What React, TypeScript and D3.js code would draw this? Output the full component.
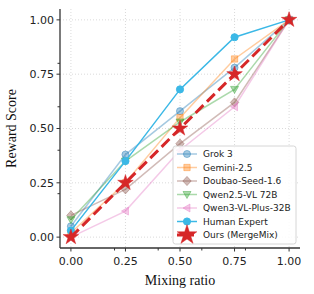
import React from 'react';
import * as d3 from 'd3';

const ratios = [0, 0.25, 0.5, 0.75, 1.0];

const grok = [0.05, 0.38, 0.58, 0.78, 1.0];
const gemini = [0.02, 0.25, 0.55, 0.82, 1.0];
const doubao = [0.1, 0.22, 0.43, 0.62, 1.0];
const qwen25 = [0.08, 0.35, 0.53, 0.68, 1.0];
const qwen3 = [0.0, 0.12, 0.4, 0.6, 1.0];
const human = [0.03, 0.35, 0.68, 0.92, 1.0];
const ours = [0.0, 0.25, 0.5, 0.75, 1.0];

const majorTicks = [0, 0.25, 0.5, 0.75, 1.0];
const minorTicks = [0.2, 0.4, 0.6, 0.8];

type Marker = 'circle' | 'square' | 'diamond' | 'triDown' | 'triLeft' | 'star';

interface Series {
	name: string;
	values: number[];
	color: string;
	alpha: number;
	marker: Marker;
	dashed?: boolean;
	width: number;
}

const series: Series[] = [
	{ name: 'Grok 3', values: grok, color: '#1f77b4', alpha: 0.4, marker: 'circle', width: 1.5 },
	{ name: 'Gemini-2.5', values: gemini, color: '#ff7f0e', alpha: 0.4, marker: 'square', width: 1.5 },
	{ name: 'Doubao-Seed-1.6', values: doubao, color: '#8c564b', alpha: 0.4, marker: 'diamond', width: 1.5 },
	{ name: 'Qwen2.5-VL 72B', values: qwen25, color: '#2ca02c', alpha: 0.4, marker: 'triDown', width: 1.5 },
	{ name: 'Qwen3-VL-Plus-32B', values: qwen3, color: '#e377c2', alpha: 0.4, marker: 'triLeft', width: 1.5 },
	{ name: 'Human Expert', values: human, color: '#3bb8e6', alpha: 1, marker: 'circle', width: 1.5 },
	{ name: 'Ours (MergeMix)', values: ours, color: '#d62728', alpha: 1, marker: 'star', dashed: true, width: 3 },
];

const W = 314;
const H = 294;
const left = 60;
const right = 300;
const top = 9;
const bottom = 248;

const x = d3.scaleLinear().domain([-0.05, 1.05]).range([left, right]);
const y = d3.scaleLinear().domain([-0.05, 1.05]).range([bottom, top]);

const markerPath = (m: Marker, big = false): string => {
	switch (m) {
		case 'circle':
			return d3.symbol(d3.symbolCircle, 40)()!;
		case 'square':
			return d3.symbol(d3.symbolSquare, 40)()!;
		case 'diamond':
			return 'M0,-4.6L4.2,0L0,4.6L-4.2,0Z';
		case 'triDown':
			return 'M-4,-3L4,-3L0,4Z';
		case 'triLeft':
			return 'M-4,0L3,-4L3,4Z';
		case 'star':
			return d3.symbol(d3.symbolStar, big ? 120 : 75)()!;
	}
};

const Mark: React.FC<{ s: Series; cx: number; cy: number; big?: boolean }> = ({ s, cx, cy, big }) => (
	<path
		d={markerPath(s.marker, big)}
		transform={`translate(${cx},${cy})`}
		fill={s.color}
		fillOpacity={s.alpha}
		stroke={s.color}
		strokeOpacity={s.alpha}
		strokeWidth={s.marker === 'star' ? 0.5 : 1}
	/>
);

const App: React.FC = () => {
	const line = d3
		.line<number>()
		.x((_, i) => x(ratios[i]))
		.y((d) => y(d));

	const legX = 173;
	const legY = 146;

	return (
		<svg width={W} height={H} style={{ position: 'absolute', left: 0, top: 0 }}>
			<rect width={W} height={H} fill="white" />
			{/* grid */}
			<g stroke="#d0d0d0" strokeWidth={0.8} strokeDasharray="1,2">
				{majorTicks.map((t) => (
					<line key={'gx' + t} x1={x(t)} x2={x(t)} y1={top} y2={bottom} />
				))}
				{majorTicks.map((t) => (
					<line key={'gy' + t} x1={left} x2={right} y1={y(t)} y2={y(t)} />
				))}
			</g>

			{/* series */}
			{series.map((s) => (
				<g key={s.name}>
					<path
						d={line(s.values)!}
						fill="none"
						stroke={s.color}
						strokeOpacity={s.alpha}
						strokeWidth={s.width}
						strokeDasharray={s.dashed ? '11,5' : undefined}
					/>
					{s.values.map((v, i) => (
						<Mark key={i} s={s} cx={x(ratios[i])} cy={y(v)} />
					))}
				</g>
			))}

			{/* axes */}
			<g stroke="#333" strokeWidth={1.3}>
				<line x1={left} x2={left} y1={top} y2={bottom} />
				<line x1={left} x2={right} y1={bottom} y2={bottom} />
			</g>
			<g stroke="#333" strokeWidth={1}>
				{majorTicks.map((t) => (
					<line key={'tx' + t} x1={x(t)} x2={x(t)} y1={bottom} y2={bottom + 3.5} />
				))}
				{minorTicks.map((t) => (
					<line key={'mx' + t} x1={x(t)} x2={x(t)} y1={bottom} y2={bottom + 2.5} />
				))}
				{majorTicks.map((t) => (
					<line key={'ty' + t} x1={left - 3.5} x2={left} y1={y(t)} y2={y(t)} />
				))}
				{minorTicks.map((t) => (
					<line key={'my' + t} x1={left - 2.5} x2={left} y1={y(t)} y2={y(t)} />
				))}
			</g>
			<g fontFamily="DejaVu Sans" fontSize={11} fill="#222">
				{majorTicks.map((t) => (
					<text key={'lx' + t} x={x(t)} y={bottom + 17} textAnchor="middle">
						{t.toFixed(2)}
					</text>
				))}
				{majorTicks.map((t) => (
					<text key={'ly' + t} x={left - 6} y={y(t)} dy="0.35em" textAnchor="end">
						{t.toFixed(2)}
					</text>
				))}
			</g>
			<text
				x={(left + right) / 2}
				y={285}
				textAnchor="middle"
				fontFamily="Liberation Serif"
				fontSize={14}
				fill="#111"
			>
				Mixing ratio
			</text>
			<text
				transform={`translate(16,${(top + bottom) / 2}) rotate(-90)`}
				textAnchor="middle"
				fontFamily="Liberation Serif"
				fontSize={14}
				fill="#111"
			>
				Reward Score
			</text>

			{/* legend */}
			<rect
				x={legX}
				y={legY}
				width={123}
				height={98}
				rx={2.5}
				fill="white"
				fillOpacity={0.85}
				stroke="#ccc"
				strokeWidth={0.8}
			/>
			{series.map((s, i) => {
				const ly = legY + 8 + i * 13.5;
				return (
					<g key={'leg' + s.name}>
						<line
							x1={legX + 4}
							x2={legX + 24}
							y1={ly}
							y2={ly}
							stroke={s.color}
							strokeOpacity={s.alpha}
							strokeWidth={s.width}
							strokeDasharray={s.dashed ? '7,3' : undefined}
						/>
						<Mark s={s} cx={legX + 14} cy={ly} big />
						<text
							x={legX + 30}
							y={ly}
							dy="0.35em"
							fontFamily="DejaVu Sans"
							fontSize={9}
							fill="#222"
						>
							{s.name}
						</text>
					</g>
				);
			})}
		</svg>
	);
};

export default App;
